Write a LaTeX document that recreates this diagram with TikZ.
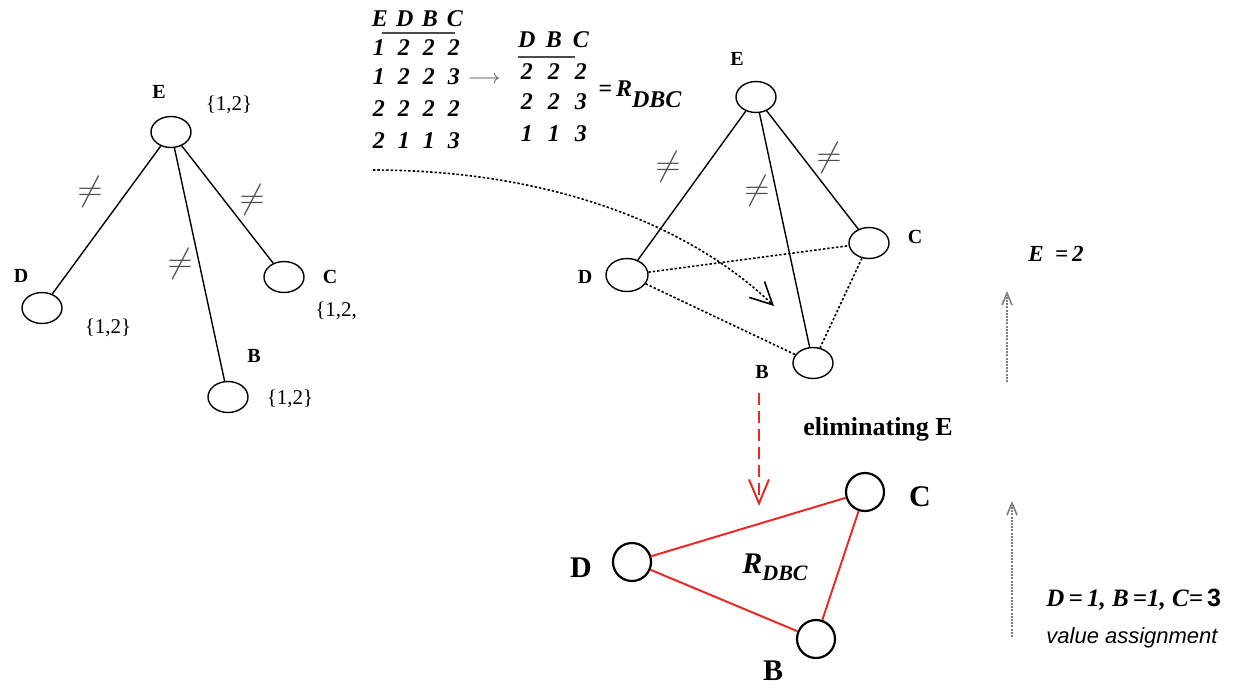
\documentclass[tikz,border=0pt]{standalone}
\usepackage{fontspec}
\setmainfont{Liberation Serif}
\setsansfont{Liberation Sans}
\usetikzlibrary{shapes.geometric,arrows.meta}
\definecolor{redE}{RGB}{232,42,36}
\definecolor{grayA}{RGB}{125,125,125}
\newcommand{\cellrow}[5]{\makebox[#1][c]{#2}\makebox[#1][c]{#3}\makebox[#1][c]{#4}\makebox[#1][c]{#5}}
\newcommand{\cellthree}[4]{\makebox[#1][c]{#2}\makebox[#1][c]{#3}\makebox[#1][c]{#4}}
\tikzset{
 vtx/.style={draw, ellipse, inner sep=0pt, minimum width=20pt, minimum height=15.5pt, line width=0.7pt},
 rvtx/.style={draw, circle, inner sep=0pt, minimum size=19pt, line width=1.1pt},
 lbl/.style={font=\fontsize{10}{12}\selectfont\bfseries, inner sep=0pt},
 biglbl/.style={font=\fontsize{15}{18}\selectfont\bfseries, inner sep=0pt},
 dom/.style={font=\fontsize{10.5}{12}\selectfont, inner sep=0pt},
 edge/.style={line width=0.7pt},
 dots/.style={line width=0.8pt, dash pattern=on 1.2pt off 1pt},
 neq/.style={font=\fontsize{19}{19}\selectfont, inner sep=0pt, text=black!70},
 tab/.style={font=\fontsize{12}{14}\selectfont\bfseries\itshape, inner sep=0pt, anchor=west},
 redge/.style={draw=redE, line width=1pt},
}
\begin{document}
\begin{tikzpicture}[x=0.5pt,y=-0.5pt]
\useasboundingbox (0,0) rectangle (1237,687);

% ---------- left tree ----------
\node[vtx] (E1) at (171,132) {};
\node[vtx] (D1) at (42,308) {};
\node[vtx] (C1) at (284,277) {};
\node[vtx] (B1) at (228,397) {};
\node[lbl] (E1l) at (159,92) {E};
\node[lbl] (D1l) at (21,276) {D};
\node[lbl] (C1l) at (330,277) {C};
\node[lbl] (B1l) at (254,356) {B};
\node[dom] (E1d) at (229,105) {\{1,2\}};
\node[dom] (D1d) at (108,328) {\{1,2\}};
\node[dom, anchor=west] (C1d) at (315,311) {\{1,2,};
\node[dom] (B1d) at (290,399) {\{1,2\}};
\draw[edge] (E1) -- (D1);
\draw[edge] (E1) -- (C1);
\draw[edge] (E1) -- (B1);
\node[neq] (n1) at (90,192) {$\neq$};
\node[neq] (n2) at (252,200) {$\neq$};
\node[neq] (n3) at (180,264) {$\neq$};

% ---------- tables ----------
\node[tab] (h1) at (367,19) {\cellrow{12.5pt}{E}{D}{B}{C}};
\draw[line width=0.8pt, black!70] (382,33) -- (455,33);
\node[tab] (r11) at (366,48) {\cellrow{12.5pt}{1}{2}{2}{2}};
\node[tab] (r12) at (366,77) {\cellrow{12.5pt}{1}{2}{2}{3}};
\node[tab] (r13) at (366,109) {\cellrow{12.5pt}{2}{2}{2}{2}};
\node[tab] (r14) at (366,141) {\cellrow{12.5pt}{2}{1}{1}{3}};
\node[font=\fontsize{10}{12}\selectfont, text=black!70, inner sep=0pt] (arr) at (484,80) {$\longrightarrow$};
\node[tab] (h2) at (513,40) {\cellthree{13.5pt}{D}{B}{C}};
\draw[line width=0.8pt, black!70] (518,57) -- (575,57);
\node[tab] (r21) at (513,72) {\cellthree{13.5pt}{2}{2}{2}};
\node[tab] (r22) at (513,102) {\cellthree{13.5pt}{2}{2}{3}};
\node[tab] (r23) at (513,134) {\cellthree{13.5pt}{1}{1}{3}};
\node[tab] (req) at (598,94) {=\,R\raisebox{-5.5pt}{DBC}};

% ---------- middle graph ----------
\node[vtx] (E2) at (756,97) {};
\node[vtx] (C2) at (869,243) {};
\node[vtx, minimum width=21pt, minimum height=16.5pt] (D2) at (627,275) {};
\node[vtx] (B2) at (813,363) {};
\node[lbl] (E2l) at (737,59) {E};
\node[lbl] (C2l) at (915,237) {C};
\node[lbl] (D2l) at (585,277) {D};
\node[lbl] (B2l) at (762,372) {B};
\draw[edge] (E2) -- (D2);
\draw[edge] (E2) -- (C2);
\draw[edge] (E2) -- (B2);
\draw[dots] (D2) -- (C2);
\draw[dots] (D2) -- (B2);
\draw[dots] (C2) -- (B2);
\node[neq] (n4) at (668,167) {$\neq$};
\node[neq] (n5) at (757,191) {$\neq$};
\node[neq] (n6) at (829,158) {$\neq$};
\coordinate (cs) at (373,170);
\coordinate (ct) at (774,306);
\draw[dots, -{Straight Barb[length=11pt,width=11pt,line width=0.8pt]}] (cs) .. controls (550,170) and (690,225) .. (ct);

% ---------- red elimination arrow ----------
\coordinate (ra) at (759,393);
\coordinate (rb) at (759,506);
\draw[redE, line width=1pt, dash pattern=on 6pt off 3pt, -{Straight Barb[length=12pt,width=10pt,line width=1pt]}] (ra) -- (rb);
\node[font=\fontsize{13}{15}\selectfont\bfseries, inner sep=0pt] (elim) at (878,429) {eliminating E};

% ---------- bottom graph ----------
\node[rvtx] (C3) at (865,492) {};
\node[rvtx] (D3) at (632,562) {};
\node[rvtx] (B3) at (816,639) {};
\node[biglbl] (C3l) at (920,497) {C};
\node[biglbl] (D3l) at (581,568) {D};
\node[biglbl] (B3l) at (773,671) {B};
\draw[redge] (D3) -- (C3);
\draw[redge] (D3) -- (B3);
\draw[redge] (C3) -- (B3);
\node[font=\fontsize{15}{18}\selectfont\bfseries\itshape, inner sep=0pt] (Rl) at (775,567) {R\raisebox{-3.5pt}{\fontsize{11}{13}\selectfont DBC}};

% ---------- right side ----------
\node[font=\fontsize{11.5}{13}\selectfont\bfseries\itshape, inner sep=0pt] (Ev) at (1056,254) {E \ =\,2};
\coordinate (g1a) at (1007,382);
\coordinate (g1b) at (1007,291);
\draw[grayA, line width=0.8pt, dash pattern=on 1pt off 0.6pt, -{Straight Barb[length=6pt,width=5pt,line width=0.8pt]}] (g1a) -- (g1b);
\coordinate (g2a) at (1012,637);
\coordinate (g2b) at (1012,501);
\draw[grayA, line width=0.8pt, dash pattern=on 1pt off 0.6pt, -{Straight Barb[length=6pt,width=5pt,line width=0.8pt]}] (g2a) -- (g2b);
\node[font=\fontsize{12.5}{14}\selectfont\bfseries\itshape, inner sep=0pt, anchor=west] (asg) at (1046,600) {D\,=\,1, B\,=1, C=\,{\sffamily\upshape 3}};
\node[font=\sffamily\itshape\fontsize{11}{13}\selectfont, inner sep=0pt, anchor=west] (va) at (1046,638) {value assignment};
\end{tikzpicture}
\end{document}
